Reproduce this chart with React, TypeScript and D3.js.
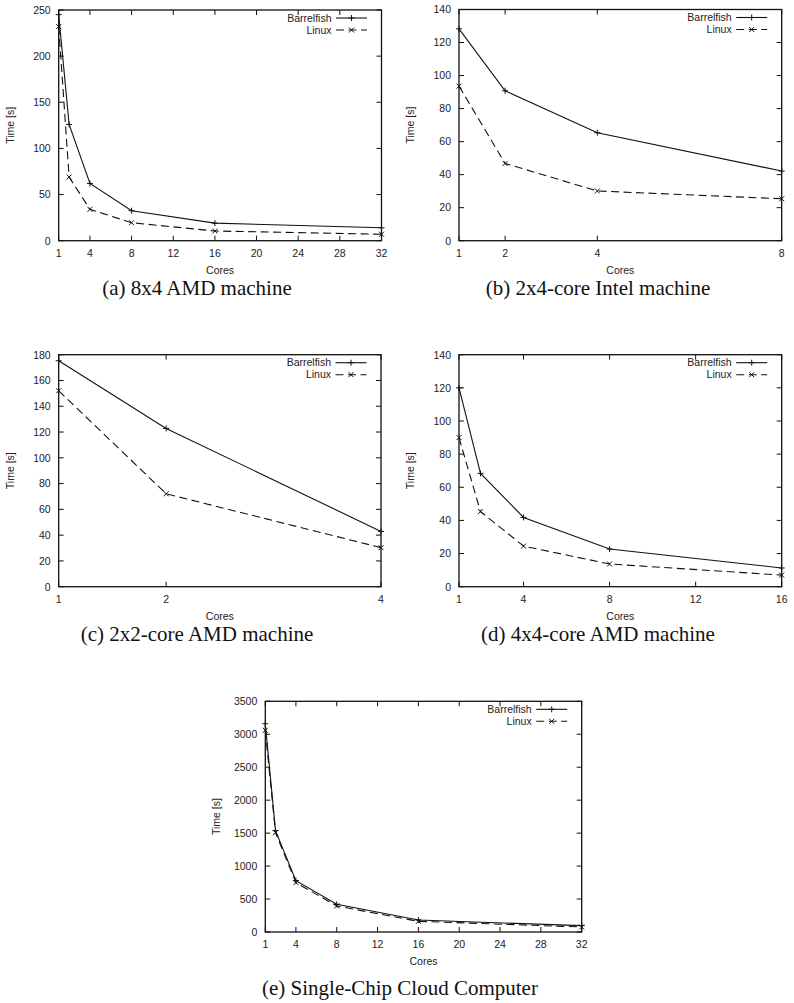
import React from "react";
import * as d3 from "d3";

// values
const coresA = [1, 2, 4, 8, 16, 32];
const barrelfishA = [245, 126, 62, 32.5, 19, 14];
const linuxA = [232, 69, 34, 19.5, 10.5, 7];

const coresB = [1, 2, 4, 8];
const barrelfishB = [128.3, 90.8, 65.4, 42.2];
const linuxB = [93.6, 46.8, 30.1, 25.4];

const coresC = [1, 2, 4];
const barrelfishC = [175.3, 122.8, 42.9];
const linuxC = [152, 72.1, 30.3];

const coresD = [1, 2, 4, 8, 16];
const barrelfishD = [120, 68.4, 41.8, 22.7, 11.3];
const linuxD = [90, 45.3, 24.5, 13.7, 7];

const coresE = [1, 2, 4, 8, 16, 32];
const barrelfishE = [3160, 1538, 779, 420, 182, 96];
const linuxE = [3060, 1507, 749, 395, 162, 76];

const xTicks32 = [1, 4, 8, 12, 16, 20, 24, 28, 32];
const xTicks8 = [1, 2, 4, 8];
const xTicks4 = [1, 2, 4];
const xTicks16 = [1, 4, 8, 12, 16];

const yTicks250 = [0, 50, 100, 150, 200, 250];
const yTicks140 = [0, 20, 40, 60, 80, 100, 120, 140];
const yTicks180 = [0, 20, 40, 60, 80, 100, 120, 140, 160, 180];
const yTicks3500 = [0, 500, 1000, 1500, 2000, 2500, 3000, 3500];

const captions = [
  "(a) 8x4 AMD machine",
  "(b) 2x4-core Intel machine",
  "(c) 2x2-core AMD machine",
  "(d) 4x4-core AMD machine",
  "(e) Single-Chip Cloud Computer",
];

const sans = "'Liberation Sans', Arial, Helvetica, sans-serif";
const serif = "'Liberation Serif', 'Times New Roman', serif";

type PanelProps = {
  left: number; right: number; top: number; bottom: number;
  cores: number[]; bf: number[]; lx: number[];
  xTicks: number[]; yTicks: number[];
  caption: string; capX: number; capY: number;
  showCores?: boolean;
};

const Plus = ({ x, y }: { x: number; y: number }) => (
  <path d={`M${x - 3},${y}H${x + 3}M${x},${y - 3}V${y + 3}`} stroke="#111" strokeWidth={1} />
);
const Cross = ({ x, y }: { x: number; y: number }) => (
  <path d={`M${x - 2.5},${y - 2.5}L${x + 2.5},${y + 2.5}M${x - 2.5},${y + 2.5}L${x + 2.5},${y - 2.5}`} stroke="#111" strokeWidth={1} />
);

const Panel = (p: PanelProps) => {
  const xd = d3.extent(p.xTicks) as [number, number];
  const yd = d3.extent(p.yTicks) as [number, number];
  const x = d3.scaleLinear().domain(xd).range([p.left, p.right]);
  const y = d3.scaleLinear().domain(yd).range([p.bottom, p.top]);
  const line = d3.line<number>().x((_, i) => x(p.cores[i])).y((d) => y(d));
  const tl = 5;
  const midY = (p.top + p.bottom) / 2;
  const midX = (p.left + p.right) / 2;
  const legX = p.right - 50;
  return (
    <g>
      {/* ticks, mirrored on all sides */}
      {p.xTicks.map((t) => (
        <g key={"x" + t}>
          <line x1={x(t)} x2={x(t)} y1={p.bottom} y2={p.bottom - tl} stroke="#111" />
          <line x1={x(t)} x2={x(t)} y1={p.top} y2={p.top + tl} stroke="#111" />
          <text x={x(t)} y={p.bottom + 16} textAnchor="middle" fontSize={10.5} fontFamily={sans} fill="#222">{t}</text>
        </g>
      ))}
      {p.yTicks.map((t) => (
        <g key={"y" + t}>
          <line x1={p.left} x2={p.left + tl} y1={y(t)} y2={y(t)} stroke="#111" />
          <line x1={p.right} x2={p.right - tl} y1={y(t)} y2={y(t)} stroke="#111" />
          <text x={p.left - 8} y={y(t) + 3.8} textAnchor="end" fontSize={10.5} fontFamily={sans} fill="#222">{t}</text>
        </g>
      ))}
      <rect x={p.left} y={p.top} width={p.right - p.left} height={p.bottom - p.top} fill="none" stroke="#111" strokeWidth={1.3} />
      <text transform={`translate(${p.left - 45},${midY}) rotate(-90)`} textAnchor="middle" fontSize={10.5} fontFamily={sans} fill="#222">Time [s]</text>
      <text x={midX} y={p.bottom + 33} textAnchor="middle" fontSize={10.5} fontFamily={sans} fill="#222">Cores</text>

      {/* series */}
      <path d={line(p.bf) || ""} fill="none" stroke="#111" strokeWidth={1.1} />
      <path d={line(p.lx) || ""} fill="none" stroke="#111" strokeWidth={1.1} strokeDasharray="8,4.5" />
      {p.bf.map((v, i) => <Plus key={"b" + i} x={x(p.cores[i])} y={y(v)} />)}
      {p.lx.map((v, i) => <Cross key={"l" + i} x={x(p.cores[i])} y={y(v)} />)}

      {/* legend */}
      <text x={legX} y={p.top + 11.5} textAnchor="end" fontSize={10.5} fontFamily={sans} fill="#222">Barrelfish</text>
      <line x1={p.right - 45.5} x2={p.right - 14.5} y1={p.top + 8} y2={p.top + 8} stroke="#111" strokeWidth={1.1} />
      <Plus x={p.right - 30} y={p.top + 8} />
      <text x={legX} y={p.top + 23.5} textAnchor="end" fontSize={10.5} fontFamily={sans} fill="#222">Linux</text>
      <line x1={p.right - 45.5} x2={p.right - 14.5} y1={p.top + 20} y2={p.top + 20} stroke="#111" strokeWidth={1.1} strokeDasharray="8,4.5" />
      <Cross x={p.right - 30} y={p.top + 20} />

      <text x={p.capX} y={p.capY} textAnchor="middle" fontSize={21} fontFamily={serif} fill="#111">{p.caption}</text>
    </g>
  );
};

export default function App() {
  return (
    <svg width={794} height={1003} style={{ position: "absolute", left: 0, top: 0, background: "#fff" }}>
      <rect width={794} height={1003} fill="#fff" />
      <Panel left={58.7} right={381.5} top={10} bottom={240.7} cores={coresA} bf={barrelfishA} lx={linuxA}
        xTicks={xTicks32} yTicks={yTicks250} caption={captions[0]} capX={197} capY={295} />
      <Panel left={459} right={781.7} top={9.5} bottom={240.7} cores={coresB} bf={barrelfishB} lx={linuxB}
        xTicks={xTicks8} yTicks={yTicks140} caption={captions[1]} capX={598} capY={295} />
      <Panel left={58.7} right={381} top={354.7} bottom={586.7} cores={coresC} bf={barrelfishC} lx={linuxC}
        xTicks={xTicks4} yTicks={yTicks180} caption={captions[2]} capX={197} capY={641} />
      <Panel left={459} right={781.7} top={354.7} bottom={586.7} cores={coresD} bf={barrelfishD} lx={linuxD}
        xTicks={xTicks16} yTicks={yTicks140} caption={captions[3]} capX={598} capY={641} />
      <Panel left={265.3} right={581.7} top={701.3} bottom={932} cores={coresE} bf={barrelfishE} lx={linuxE}
        xTicks={xTicks32} yTicks={yTicks3500} caption={captions[4]} capX={400} capY={995} />
    </svg>
  );
}
